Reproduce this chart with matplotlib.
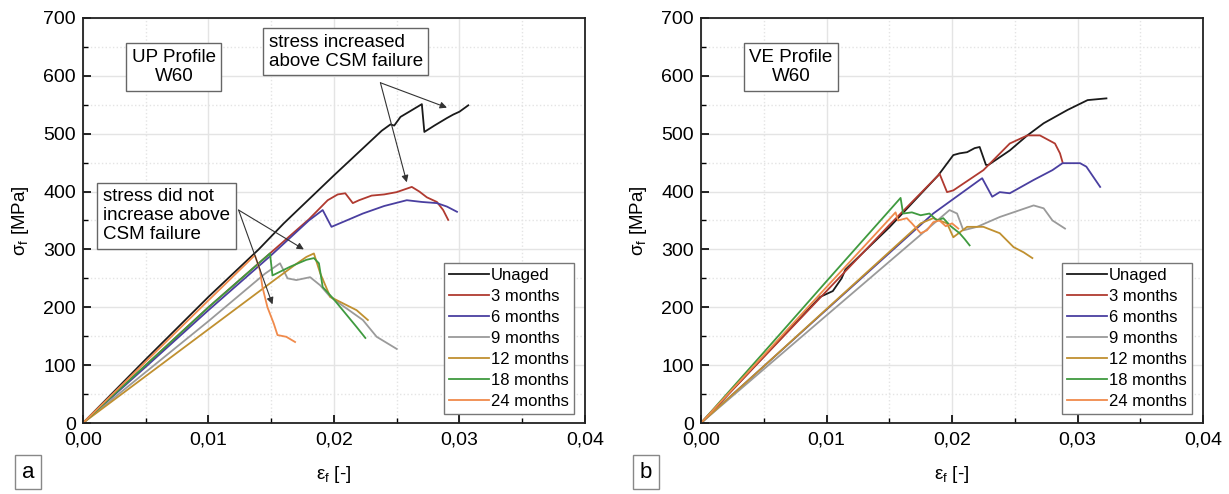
import matplotlib
matplotlib.use('Agg')
import matplotlib.pyplot as plt
from matplotlib.ticker import MultipleLocator, FuncFormatter

plt.rcParams['font.family'] = ['Liberation Sans', 'DejaVu Sans']
plt.rcParams['mathtext.fontset'] = 'custom'
plt.rcParams['mathtext.rm'] = 'Liberation Sans'
plt.rcParams['mathtext.it'] = 'Liberation Sans'

labels = ['Unaged', '3 months', '6 months', '9 months',
          '12 months', '18 months', '24 months']
colors = ['#1a1a1a', '#b03a30', '#4a3fa0', '#9a9a9a',
          '#c09030', '#3f9a3f', '#f08a4b']

# -- panel a: UP profile
up_x = [
    [0, 0.005, 0.010, 0.014, 0.016, 0.020, 0.0238, 0.0245, 0.0248, 0.0253, 0.026,
     0.027, 0.0272, 0.028, 0.029, 0.0295, 0.0300, 0.0307],
    [0, 0.005, 0.010, 0.015, 0.018, 0.0195, 0.0203, 0.0209, 0.0215, 0.022, 0.023,
     0.024, 0.025, 0.0262, 0.0268, 0.0274, 0.0282, 0.0287, 0.0291],
    [0, 0.005, 0.010, 0.015, 0.018, 0.0191, 0.0198, 0.021, 0.0223, 0.024, 0.0258,
     0.027, 0.0282, 0.029, 0.0298],
    [0, 0.005, 0.010, 0.0145, 0.0157, 0.0163, 0.017, 0.0181, 0.0189, 0.0197, 0.021,
     0.0223, 0.0234, 0.025],
    [0, 0.005, 0.010, 0.015, 0.017, 0.0178, 0.0184, 0.0189, 0.0197, 0.0207, 0.0218,
     0.0227],
    [0, 0.005, 0.010, 0.0149, 0.0151, 0.0165, 0.0178, 0.0184, 0.0188, 0.0191, 0.0199,
     0.0207, 0.0218, 0.0225],
    [0, 0.005, 0.010, 0.0137, 0.0141, 0.0143, 0.0147, 0.0152, 0.0155, 0.0162, 0.0169],
]
up_y = [
    [0, 110, 218, 300, 345, 428, 505, 516, 514, 529, 538, 551, 503, 514, 527, 533, 538, 549],
    [0, 100, 200, 295, 352, 385, 395, 397, 380, 385, 393, 395, 399, 408, 400, 390, 382, 368, 351],
    [0, 97, 195, 290, 350, 368, 339, 350, 362, 375, 385, 382, 380, 374, 365],
    [0, 88, 176, 258, 276, 250, 247, 252, 238, 218, 198, 178, 149, 128],
    [0, 81, 162, 243, 275, 287, 293, 259, 218, 207, 195, 178],
    [0, 100, 200, 293, 255, 270, 282, 285, 276, 235, 216, 195, 166, 147],
    [0, 106, 212, 290, 264, 235, 200, 172, 152, 149, 140],
]

# -- panel b: VE profile
ve_x = [
    [0, 0.005, 0.0095, 0.0105, 0.0112, 0.0115, 0.015, 0.0189, 0.0201, 0.0206, 0.0212,
     0.0218, 0.0222, 0.0227, 0.0229, 0.0246, 0.026, 0.0273, 0.0292, 0.0308, 0.0323],
    [0, 0.005, 0.010, 0.015, 0.0189, 0.019, 0.0196, 0.0201, 0.0225, 0.0246, 0.026,
     0.027, 0.0282, 0.0286, 0.0288],
    [0, 0.005, 0.010, 0.0185, 0.0222, 0.0224, 0.0232, 0.0238, 0.0246, 0.0265, 0.028,
     0.0288, 0.0302, 0.0307, 0.0318],
    [0, 0.005, 0.010, 0.0198, 0.0204, 0.0209, 0.022, 0.0238, 0.0265, 0.0273, 0.028, 0.029],
    [0, 0.005, 0.010, 0.0175, 0.0185, 0.0196, 0.0201, 0.0212, 0.0225, 0.0238, 0.0249,
     0.0257, 0.0264],
    [0, 0.005, 0.010, 0.0159, 0.0161, 0.0168, 0.0175, 0.0182, 0.0188, 0.0193, 0.0199,
     0.0206, 0.021, 0.0214],
    [0, 0.005, 0.010, 0.0155, 0.0157, 0.0164, 0.0168, 0.0175, 0.018, 0.0185, 0.019,
     0.0195, 0.020, 0.0205],
]
ve_y = [
    [0, 115, 218, 228, 250, 265, 338, 428, 463, 466, 468, 475, 477, 446, 446, 471, 497,
     518, 541, 558, 561],
    [0, 114, 228, 342, 428, 431, 399, 402, 437, 483, 497, 497, 483, 466, 451],
    [0, 98, 196, 362, 420, 423, 391, 399, 397, 420, 437, 449, 449, 443, 408],
    [0, 93, 186, 368, 362, 333, 339, 356, 376, 371, 350, 336],
    [0, 98, 197, 345, 354, 345, 321, 339, 339, 328, 304, 295, 285],
    [0, 122, 245, 389, 362, 364, 359, 362, 350, 354, 340, 328, 318, 307],
    [0, 117, 235, 364, 350, 354, 345, 328, 333, 347, 350, 340, 345, 336],
]

fig = plt.figure(figsize=(12.29, 4.94), dpi=100)
ax_a = fig.add_axes([0.0675, 0.1437, 0.4085, 0.82])
ax_b = fig.add_axes([0.5704, 0.1437, 0.4085, 0.82])


def comma_fmt(v, pos):
    return '{0:.2f}'.format(v).replace('.', ',')


def setup_axis(ax, xs, ys):
    for x, y, lab, col in zip(xs, ys, labels, colors):
        ax.plot(x, y, color=col, linewidth=1.3, label=lab)
    ax.set_xlim(0, 0.04)
    ax.set_ylim(0, 700)
    ax.xaxis.set_major_locator(MultipleLocator(0.01))
    ax.xaxis.set_minor_locator(MultipleLocator(0.005))
    ax.yaxis.set_major_locator(MultipleLocator(100))
    ax.yaxis.set_minor_locator(MultipleLocator(50))
    ax.xaxis.set_major_formatter(FuncFormatter(comma_fmt))
    ax.grid(which='major', color='#e4e4e4', linewidth=1.0, linestyle='-')
    ax.grid(which='minor', color='#e4e4e4', linewidth=1.0, linestyle=':')
    ax.set_axisbelow(True)
    ax.tick_params(which='major', direction='in', length=6, width=1.2,
                   labelsize=14)
    ax.tick_params(axis='x', which='major', pad=6)
    ax.tick_params(axis='y', which='major', pad=5)
    ax.tick_params(which='minor', direction='in', length=3.5, width=1.0)
    for sp in ax.spines.values():
        sp.set_linewidth(1.3)
        sp.set_color('#222222')
    ax.set_xlabel(r'$\mathregular{\varepsilon_f}$ [-]', fontsize=13.5, labelpad=11)
    ax.set_ylabel(r'$\mathregular{\sigma_f}$ [MPa]', fontsize=13.5, labelpad=9)
    leg = ax.legend(loc='lower right', bbox_to_anchor=(0.978, 0.022),
                    borderaxespad=0, fontsize=12, handlelength=2.4,
                    handletextpad=0.15, labelspacing=0.36, borderpad=0.3,
                    fancybox=False, framealpha=1)
    leg.get_frame().set_edgecolor('#777777')
    leg.get_frame().set_linewidth(1.0)


setup_axis(ax_a, up_x, up_y)
setup_axis(ax_b, ve_x, ve_y)

box = dict(boxstyle='square,pad=0.3', facecolor='white', edgecolor='#666666',
           linewidth=1.0)
arrow = dict(arrowstyle='-|>', color='#333333', linewidth=0.8,
             mutation_scale=10, shrinkA=0, shrinkB=0)

# -- annotations panel a
ax_a.text(0.181, 0.879, 'UP Profile\nW60', transform=ax_a.transAxes,
          ha='center', va='center', multialignment='center', fontsize=13.5,
          bbox=box, linespacing=1.15, zorder=5)
ax_a.text(0.370, 0.917, 'stress increased\nabove CSM failure',
          transform=ax_a.transAxes, ha='left', va='center', fontsize=13.5,
          bbox=box, linespacing=1.15, zorder=5)
ax_a.text(0.040, 0.512, 'stress did not\nincrease above\nCSM failure',
          transform=ax_a.transAxes, ha='left', va='center', fontsize=13.5,
          bbox=box, linespacing=1.15, zorder=5)
ax_a.annotate('', xy=(0.0290, 545), xytext=(0.0237, 588), arrowprops=arrow)
ax_a.annotate('', xy=(0.0258, 416), xytext=(0.0237, 588), arrowprops=arrow)
ax_a.annotate('', xy=(0.0151, 205), xytext=(0.0124, 368), arrowprops=arrow)
ax_a.annotate('', xy=(0.0176, 300), xytext=(0.0124, 368), arrowprops=arrow)

# -- annotations panel b
ax_b.text(0.179, 0.879, 'VE Profile\nW60', transform=ax_b.transAxes,
          ha='center', va='center', multialignment='center', fontsize=13.5,
          bbox=box, linespacing=1.15, zorder=5)

# panel letters
letter_box = dict(boxstyle='square,pad=0.3', facecolor='white',
                  edgecolor='#888888', linewidth=1.0)
fig.text(28 / 1229, 1 - 472 / 494, 'a', ha='center', va='center',
         fontsize=16, bbox=letter_box)
fig.text(646 / 1229, 1 - 472 / 494, 'b', ha='center', va='center',
         fontsize=16, bbox=letter_box)

plt.savefig('out.png', dpi=100)
plt.close()
